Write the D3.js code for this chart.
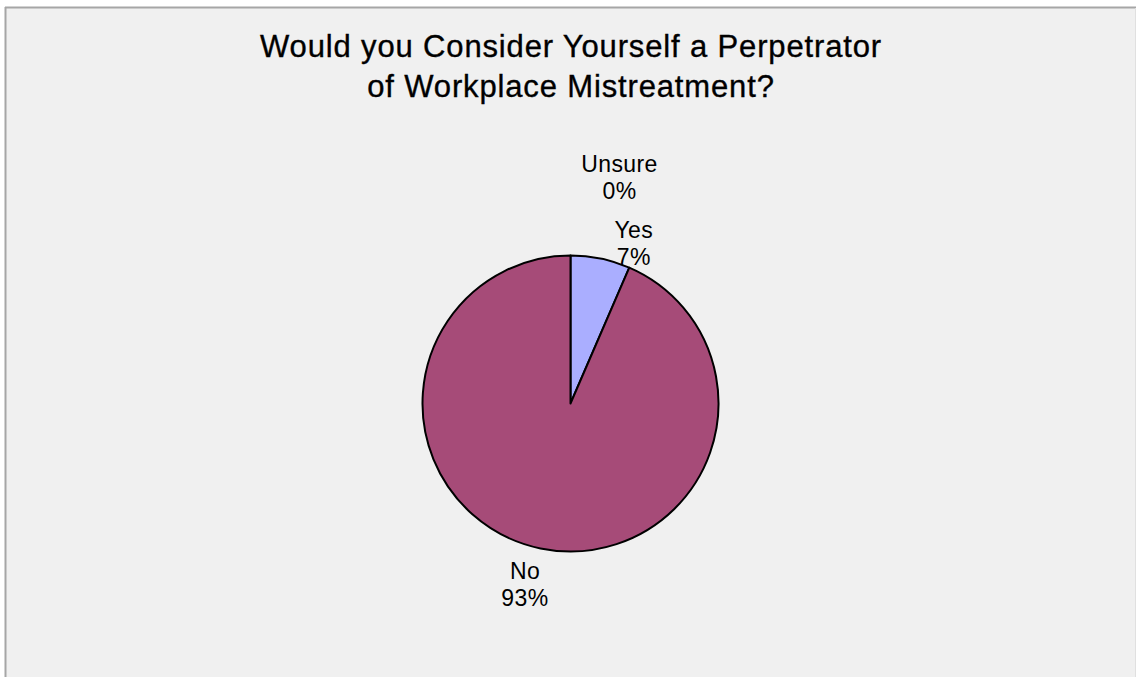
<!DOCTYPE html>
<html>
<head>
<meta charset="utf-8">
<script src="https://cdn.jsdelivr.net/npm/d3@7"></script>
<style>
  html, body { margin: 0; padding: 0; background: #ffffff; }
  svg { display: block; }
  text { font-family: "Liberation Sans", Arial, Helvetica, sans-serif; fill: #000; }
</style>
</head>
<body>
<svg id="chart" width="1136" height="677"></svg>
<script>
// ---- data ----
const titleLines = ["Would you Consider Yourself a Perpetrator", "of Workplace Mistreatment?"];
const categories = ["Yes", "No", "Unsure"];
const sliceValues = [6.5, 93.5, 0];          // slice sizes
const percentLabels = ["7%", "93%", "0%"];   // data-label text as shown
const sliceColors = ["#aaaeff", "#a64b78", "#f0f0f0"];

// ---- layout ----
const W = 1136, H = 677;
const cx = 570.5, cy = 403.5, radius = 148;
// label placement: radius from centre and angular shift (degrees) per category
const labelPlace = {
  "Yes":    { r: 164, dAngle: 11.0 },
  "No":     { r: 195, dAngle: 1.8 },
  "Unsure": { r: 223, dAngle: 12.7 }
};

const svg = d3.select("#chart");

// chart area background + frame
svg.append("rect").attr("x", 5).attr("y", 7).attr("width", W - 5).attr("height", H - 7)
  .attr("fill", "#f0f0f0");
svg.append("line").attr("x1", 5).attr("x2", W).attr("y1", 7.5).attr("y2", 7.5)
  .attr("stroke", "#a6a6a6").attr("stroke-width", 2);
svg.append("line").attr("x1", 5.5).attr("x2", 5.5).attr("y1", 7).attr("y2", H)
  .attr("stroke", "#a6a6a6").attr("stroke-width", 2);
svg.append("line").attr("x1", W - 0.5).attr("x2", W - 0.5).attr("y1", 8).attr("y2", H)
  .attr("stroke", "#e0e0e0").attr("stroke-width", 1);

// title
const title = svg.append("text").attr("text-anchor", "middle")
  .style("font-size", "31px").style("letter-spacing", "0.85px")
  .style("stroke", "#000").style("stroke-width", "0.35px");
titleLines.forEach((t, i) => {
  title.append("tspan").attr("x", 571).attr("y", 57 + i * 40).text(t);
});

// pie
const data = categories.map((c, i) => ({ name: c, value: sliceValues[i], label: percentLabels[i], color: sliceColors[i] }));
const pie = d3.pie().value(d => d.value).sort(null).startAngle(0).endAngle(2 * Math.PI);
const arcs = pie(data);
const arc = d3.arc().innerRadius(0).outerRadius(radius);

const g = svg.append("g").attr("transform", `translate(${cx},${cy})`);
g.selectAll("path.slice").data(arcs.filter(a => a.data.value > 0)).join("path")
  .attr("class", "slice")
  .attr("d", arc)
  .attr("fill", d => d.data.color)
  .attr("stroke", "#000")
  .attr("stroke-width", 2)
  .attr("stroke-linejoin", "round");

// labels
arcs.forEach(a => {
  const p = labelPlace[a.data.name];
  const ang = (a.startAngle + a.endAngle) / 2 + p.dAngle * Math.PI / 180;
  const x = cx + Math.sin(ang) * p.r;
  const y = cy - Math.cos(ang) * p.r;
  const t = svg.append("text").attr("text-anchor", "middle")
    .style("font-size", "23px").style("letter-spacing", "0.4px");
  t.append("tspan").attr("x", x).attr("y", y - 14).text(a.data.name);
  t.append("tspan").attr("x", x).attr("y", y + 13).text(a.data.label);
});
</script>
</body>
</html>
